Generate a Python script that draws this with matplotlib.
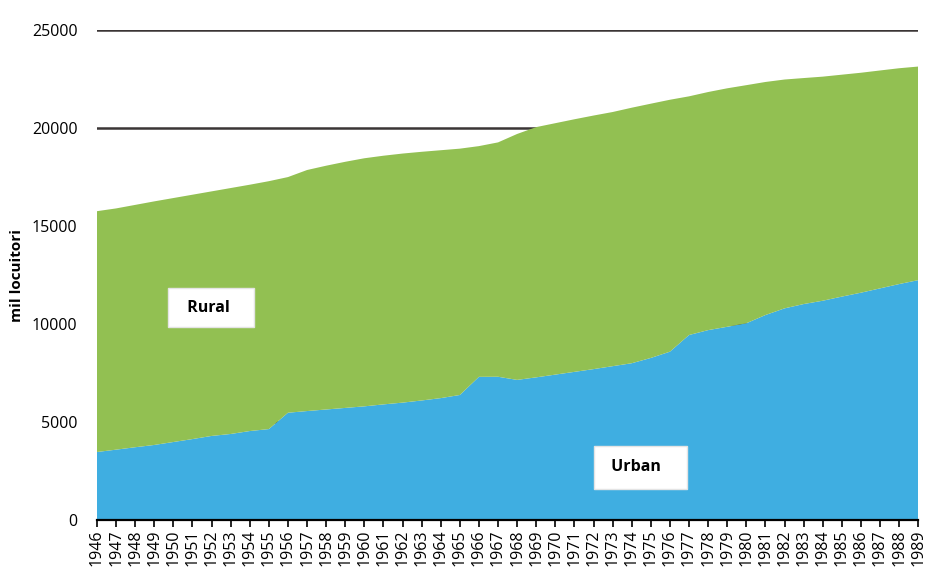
import matplotlib
matplotlib.use("Agg")
import matplotlib.pyplot as plt
import numpy as np

years = list(range(1946, 1990))
urban = [3470, 3590, 3713, 3830, 3980, 4130, 4290, 4390, 4540, 4640,
         5474, 5560, 5640, 5720, 5800, 5900, 5990, 6100, 6220, 6380,
         7306, 7310, 7150, 7280, 7420, 7560, 7700, 7850, 8000, 8270,
         8590, 9440, 9690, 9860, 10040, 10460, 10800, 11020, 11190, 11400,
         11600, 11820, 12040, 12240]
total = [15760, 15900, 16080, 16260, 16430, 16600, 16770, 16940, 17110, 17290,
         17500, 17860, 18080, 18280, 18460, 18590, 18700, 18790, 18870, 18950,
         19080, 19270, 19700, 20050, 20250, 20450, 20640, 20820, 21040, 21245,
         21446, 21620, 21840, 22030, 22190, 22353, 22478, 22553, 22625, 22725,
         22824, 22940, 23054, 23140]
rural = [t - u for t, u in zip(total, urban)]

series_labels = ["Urban", "Rural"]
y_ticks = [0, 5000, 10000, 15000, 20000, 25000]
y_label = "mil locuitori"

plt.rcParams['font.family'] = ['Open Sans', 'DejaVu Sans']

fig = plt.figure(figsize=(9.36, 5.68), dpi=100)
ax = fig.add_axes([0.1036, 0.0845, 0.8774, 0.8625])

blue = "#3FAEE1"
green = "#92C052"
ax.stackplot(years, urban, rural, colors=[blue, green], linewidth=0, zorder=2)

for yv in y_ticks[1:]:
    ax.axhline(yv, color="#3a3535", linewidth=1.8, zorder=1)

ax.set_xlim(years[0], years[-1])
ax.set_ylim(0, 25000)
ax.set_yticks(y_ticks)
ax.set_yticklabels([str(v) for v in y_ticks], fontsize=11.5)
ax.tick_params(axis='y', length=0, pad=14)
ax.set_xticks(years)
ax.set_xticklabels([str(y) for y in years], rotation=90, fontsize=11.5)
ax.tick_params(axis='x', length=5, width=1.2, color="black", pad=2)

for s in ["top", "right", "left"]:
    ax.spines[s].set_visible(False)
ax.spines["bottom"].set_linewidth(1.6)
ax.spines["bottom"].set_zorder(5)

ax.set_ylabel(y_label, fontsize=11, fontweight="bold", labelpad=6)

box = dict(boxstyle="square,pad=0.7", facecolor="white", edgecolor="#e4e4e4", linewidth=1)
ax.text(1951.97, 10840, "  " + series_labels[1] + "   ", fontsize=11.5, fontweight="bold",
        ha="center", va="center", bbox=box, zorder=6)
ax.text(1974.45, 2700, " " + series_labels[0] + "   ", fontsize=11.5, fontweight="bold",
        ha="center", va="center", bbox=dict(box, boxstyle="square,pad=0.85"), zorder=6)

fig.savefig("out.png", dpi=100)
